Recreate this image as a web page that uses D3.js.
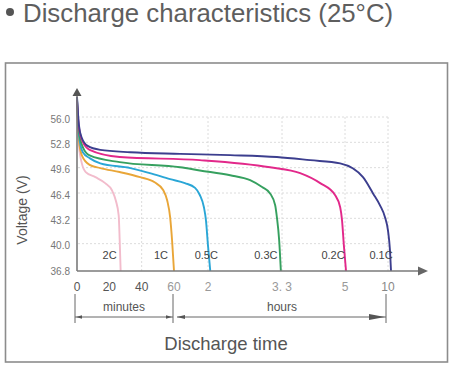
<!DOCTYPE html>
<html><head><meta charset="utf-8">
<script src="https://cdn.jsdelivr.net/npm/d3@7"></script>
<style>body{margin:0;background:#fff}svg{display:block}text{font-family:"Liberation Sans",Arial,sans-serif}</style>
</head><body><svg id="c" width="452" height="366"></svg>
<script>
// ---- data ----
const seriesNames = ["2C","1C","0.5C","0.3C","0.2C","0.1C"];
// time in hours, voltage in V
const t2C  = [0,0.02,0.05,0.09,0.19,0.29,0.36,0.40,0.43,0.44,0.45];
const v2C  = [57.8,52.7,50.4,49.3,48.65,47.9,47.0,45.7,43.8,40.7,36.8];
const t1C  = [0,0.02,0.05,0.13,0.24,0.44,0.65,0.80,0.89,0.93,0.96,0.98,1.0];
const v1C  = [57.8,53.3,51.4,50.2,49.8,49.3,48.65,48.0,47.0,45.7,43.6,40.7,36.8];
const t05C = [0,0.02,0.06,0.13,0.24,0.55,0.75,0.96,1.32,1.62,1.76,1.88,1.94,2.0,2.04];
const v05C = [58.7,54.0,51.8,51.06,50.4,49.8,49.16,48.4,47.9,47.3,46.4,44.85,43.2,40.0,36.8];
const t03C = [0,0.02,0.06,0.13,0.44,1.18,1.76,2.39,2.74,2.95,3.09,3.18,3.21,3.25,3.28];
const v03C = [58.4,54.4,52.45,51.4,50.55,49.9,49.5,48.9,48.27,47.4,46.6,45.1,43.6,40.7,36.8];
const t02C = [0,0.02,0.06,0.13,0.44,1.76,3.09,3.79,4.33,4.73,4.87,4.92,4.97,5.12];
const v02C = [58.4,54.9,53.1,52.1,51.2,50.8,49.9,49.16,47.9,46.4,44.85,43.2,40.0,36.8];
const t01C = [0,0.02,0.05,0.11,0.24,0.55,1.18,2.39,3.21,4.06,4.87,7.09,8.26,9.07,9.65,10.0,10.23,10.35];
const v01C = [58.8,55.2,53.6,52.6,52.1,51.8,51.6,51.44,51.2,50.8,50.4,48.65,46.6,45.1,43.6,41.9,39.4,36.8];
const yTicks = [36.8,40.0,43.2,46.4,49.6,52.8,56.0];
const xTickValues = [0,1/3,2/3,1,2,3.3,5,10]; // hours
const xTickLabels = ["0","20","40","60","2","3. 3","5","10"];
const xGridValues = [2/3,2,3.3,5,10];

const colors = ["#f2bccc","#e9a638","#2aa6d6","#36a05f","#e2288a","#3c3e8e"];
const times = [t2C,t1C,t05C,t03C,t02C,t01C];
const volts = [v2C,v1C,v05C,v03C,v02C,v01C];

// ---- drawing ----
const svg = d3.select("#c");
svg.append("rect").attr("width",452).attr("height",366).attr("fill","#fff");

// title
svg.append("circle").attr("cx",10).attr("cy",12).attr("r",4).attr("fill","#555");
svg.append("text").attr("x",23).attr("y",22).attr("font-size",25.8).attr("fill","#5e5e5e")
  .text("Discharge characteristics (25°C)");

// frame
svg.append("rect").attr("x",5.5).attr("y",63).attr("width",442).attr("height",299)
  .attr("fill","none").attr("stroke","#8c8c8c").attr("stroke-width",1.6);

const x = d3.scaleLinear().domain([0,1,2,3.3,5,10]).range([77,174,208,282,345,388]);
const y = d3.scaleLinear().domain([36.8,56.0]).range([271,119]);

// grid
const g = svg.append("g");
g.selectAll(".hg").data(yTicks.slice(1)).join("line")
  .attr("x1",78).attr("x2",390).attr("y1",d=>y(d)-2).attr("y2",d=>y(d)-2)
  .attr("stroke","#dcdcdc").attr("stroke-dasharray","2,2").attr("stroke-width",1);
g.selectAll(".vg").data(xGridValues).join("line")
  .attr("x1",d=>x(d)).attr("x2",d=>x(d)).attr("y1",y(56.0)-2).attr("y2",271)
  .attr("stroke","#dcdcdc").attr("stroke-dasharray","2,2").attr("stroke-width",1);

// y tick labels
svg.append("g").selectAll("text").data(yTicks).join("text")
  .attr("x",70).attr("y",d=>y(d)).attr("dy","0.35em").attr("text-anchor","end")
  .attr("font-size",10).attr("fill","#777").text(d=>d.toFixed(1));

// y title
svg.append("text").attr("transform","translate(27,210) rotate(-90)")
  .attr("text-anchor","middle").attr("font-size",14).attr("fill","#555").text("Voltage (V)");

// lines
const line = d3.line().x(d=>x(d[0])).y(d=>y(d[1])).curve(d3.curveMonotoneX);
times.forEach((ts,i)=>{
  const pts = ts.map((t,j)=>[t,volts[i][j]]);
  svg.append("path").attr("d",line(pts)).attr("fill","none")
    .attr("stroke",colors[i]).attr("stroke-width",1.9);
});

// axes
svg.append("line").attr("x1",77).attr("x2",77).attr("y1",271).attr("y2",94)
  .attr("stroke","#7a7a7a").attr("stroke-width",1.6);
svg.append("path").attr("d","M77,88 L72.5,96 L81.5,96 Z").attr("fill","#555");
svg.append("line").attr("x1",77).attr("x2",420).attr("y1",271).attr("y2",271)
  .attr("stroke","#7a7a7a").attr("stroke-width",1.6);
svg.append("path").attr("d","M428,271 L418,266.5 L418,275.5 Z").attr("fill","#666");

// series labels
const labelDx = [-11,-13,-4,-15,-13,-10];
svg.append("g").selectAll("text").data(seriesNames).join("text")
  .attr("x",(d,i)=>x(times[i][times[i].length-1])+labelDx[i]).attr("y",259)
  .attr("text-anchor","middle").attr("font-size",11).attr("fill","#444").text(d=>d);

// x tick labels
const tickColors = ["#555","#555","#555","#999","#999","#999","#999","#888"];
svg.append("g").selectAll("text").data(xTickValues).join("text")
  .attr("x",d=>x(d)).attr("y",291).attr("text-anchor","middle").attr("font-size",12)
  .attr("fill",(d,i)=>tickColors[i])
  .attr("font-family",(d,i)=> (i>=3 && i<=6) ? "Liberation Serif, serif" : null)
  .text((d,i)=>xTickLabels[i]);

// brackets
const br = svg.append("g").attr("stroke","#666").attr("stroke-width",1);
[x(0)-2, x(1)-1, x(10)-2].forEach(px=>{
  br.append("line").attr("x1",px).attr("x2",px).attr("y1",294).attr("y2",323);
});
br.append("line").attr("x1",x(0)-2).attr("x2",x(1)-1).attr("y1",317).attr("y2",317);
br.append("line").attr("x1",x(1)+3).attr("x2",x(10)-2).attr("y1",317).attr("y2",317);
const ah = svg.append("g").attr("fill","#555");
ah.append("path").attr("d",`M${x(0)-1},317 l6,-1.8 l0,3.6 Z`);
ah.append("path").attr("d",`M${x(1)-2},317 l-6,-1.8 l0,3.6 Z`);
ah.append("path").attr("d",`M${x(1)+3},317 l8,-2 l0,4 Z`);
ah.append("path").attr("d",`M${x(10)-3},317 l-16,-3 l0,6 Z`);
svg.append("text").attr("x",124).attr("y",311).attr("text-anchor","middle")
  .attr("font-size",12).attr("fill","#555").text("minutes");
svg.append("text").attr("x",282).attr("y",311).attr("text-anchor","middle")
  .attr("font-size",12).attr("fill","#555").text("hours");
svg.append("text").attr("x",226).attr("y",350).attr("text-anchor","middle")
  .attr("font-size",18.5).attr("fill","#555").text("Discharge time");
</script></body></html>
